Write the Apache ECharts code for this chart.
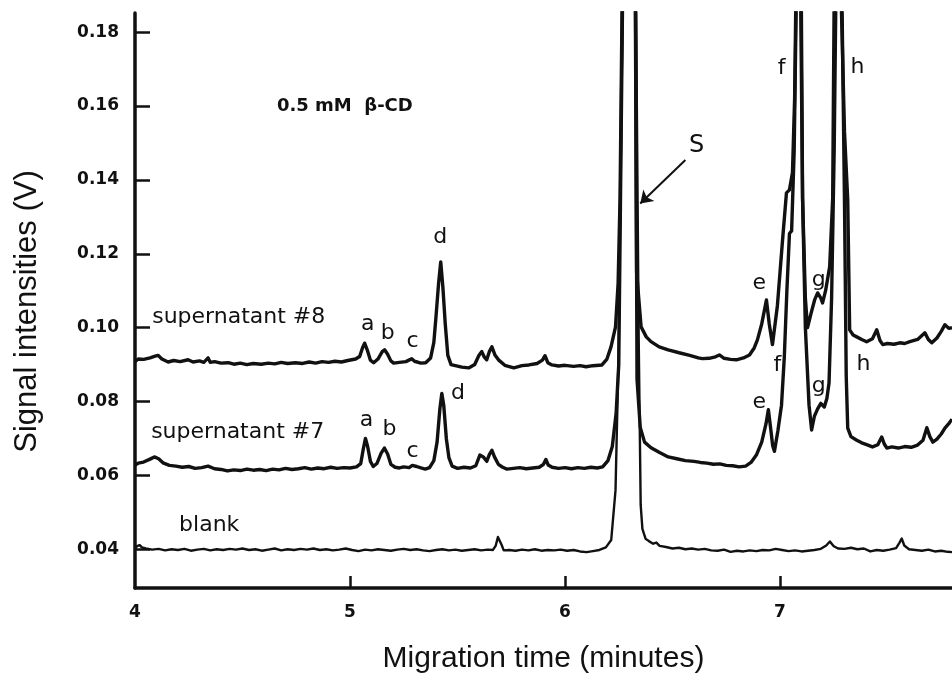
<!DOCTYPE html>
<html>
<head>
<meta charset="utf-8">
<script src="https://cdn.jsdelivr.net/npm/echarts@6/dist/echarts.min.js"></script>
<style>
  html, body { margin: 0; padding: 0; background: #fff; }
  #chart { width: 952px; height: 681px; }
</style>
</head>
<body>
<div id="chart"></div>
<script>
// Electropherogram traces: [migration time (min), signal (V)]
const blankTrace = [
  [4.000,0.0404],[4.012,0.0409],[4.022,0.0411],[4.032,0.0405],[4.05,0.0402],[4.08,0.0399],[4.11,0.0401],[4.14,0.0397],
  [4.17,0.0400],[4.20,0.0398],[4.23,0.0401],[4.26,0.0396],[4.29,0.0399],[4.32,0.0401],[4.35,0.0397],[4.38,0.0400],
  [4.41,0.0398],[4.44,0.0401],[4.47,0.0399],[4.50,0.0402],[4.53,0.0398],[4.56,0.0400],[4.59,0.0396],[4.62,0.0399],
  [4.65,0.0402],[4.68,0.0397],[4.71,0.0400],[4.74,0.0398],[4.77,0.0401],[4.80,0.0399],[4.83,0.0402],[4.86,0.0398],
  [4.89,0.0400],[4.92,0.0397],[4.95,0.0399],[4.98,0.0402],[5.01,0.0398],[5.04,0.0395],[5.07,0.0399],[5.10,0.0397],
  [5.13,0.0400],[5.16,0.0398],[5.19,0.0396],[5.22,0.0399],[5.25,0.0401],[5.28,0.0398],[5.31,0.0400],[5.34,0.0397],
  [5.37,0.0395],[5.40,0.0398],[5.43,0.0400],[5.46,0.0397],[5.49,0.0399],[5.52,0.0396],[5.55,0.0398],[5.58,0.0400],
  [5.61,0.0397],[5.64,0.0399],[5.665,0.0398],[5.678,0.0410],[5.688,0.0433],[5.697,0.0431],[5.705,0.0412],[5.715,0.0397],
  [5.74,0.0398],[5.77,0.0396],[5.80,0.0399],[5.83,0.0397],[5.86,0.0400],[5.89,0.0396],[5.92,0.0398],[5.95,0.0397],
  [5.98,0.0399],[6.01,0.0396],[6.04,0.0398],[6.07,0.0394],[6.10,0.0392],[6.13,0.0395],[6.16,0.0398],[6.19,0.0405],
  [6.215,0.0425],[6.235,0.0560],[6.25,0.0950],[6.268,0.1900],[6.298,0.3400],[6.33,0.1900],[6.343,0.0960],[6.352,0.0520],
  [6.36,0.0455],[6.375,0.0428],[6.39,0.0422],[6.41,0.0415],[6.425,0.0418],[6.44,0.0409],[6.47,0.0406],[6.50,0.0402],
  [6.53,0.0404],[6.56,0.0400],[6.59,0.0402],[6.62,0.0399],[6.65,0.0401],[6.68,0.0397],[6.71,0.0396],[6.74,0.0399],
  [6.77,0.0393],[6.80,0.0396],[6.83,0.0394],[6.86,0.0397],[6.89,0.0395],[6.92,0.0398],[6.95,0.0397],[6.98,0.0401],
  [7.01,0.0398],[7.04,0.0395],[7.07,0.0397],[7.10,0.0394],[7.13,0.0396],[7.16,0.0398],[7.19,0.0401],[7.215,0.0410],
  [7.232,0.0421],[7.25,0.0408],[7.27,0.0402],[7.30,0.0401],[7.33,0.0404],[7.36,0.0400],[7.39,0.0402],[7.42,0.0394],
  [7.45,0.0398],[7.48,0.0396],[7.51,0.0399],[7.54,0.0403],[7.556,0.0418],[7.566,0.0429],[7.578,0.0410],[7.60,0.0400],
  [7.63,0.0398],[7.66,0.0396],[7.69,0.0399],[7.72,0.0394],[7.75,0.0396],[7.78,0.0393],[7.80,0.0392]
];

const supernatant7Trace = [
  [4.000,0.0628],[4.015,0.0633],[4.04,0.0636],[4.07,0.0644],[4.09,0.0650],[4.11,0.0645],[4.13,0.0634],[4.16,0.0627],
  [4.19,0.0625],[4.22,0.0622],[4.25,0.0624],[4.28,0.0619],[4.31,0.0621],[4.34,0.0625],[4.37,0.0618],[4.40,0.0616],
  [4.43,0.0612],[4.46,0.0615],[4.49,0.0613],[4.52,0.0617],[4.55,0.0614],[4.58,0.0616],[4.61,0.0613],[4.64,0.0617],
  [4.67,0.0615],[4.70,0.0619],[4.73,0.0616],[4.76,0.0618],[4.79,0.0621],[4.82,0.0617],[4.85,0.0620],[4.88,0.0618],
  [4.91,0.0622],[4.94,0.0619],[4.97,0.0621],[5.00,0.0620],[5.03,0.0623],[5.05,0.0632],[5.062,0.0672],[5.072,0.0700],
  [5.082,0.0678],[5.095,0.0638],[5.108,0.0624],[5.125,0.0632],[5.145,0.0660],[5.16,0.0674],[5.175,0.0658],[5.19,0.0630],
  [5.21,0.0622],[5.23,0.0620],[5.25,0.0623],[5.275,0.0621],[5.29,0.0627],[5.31,0.0624],[5.33,0.0620],[5.35,0.0617],
  [5.37,0.0621],[5.39,0.0640],[5.405,0.0690],[5.418,0.0780],[5.427,0.0822],[5.436,0.0790],[5.448,0.0700],[5.46,0.0648],
  [5.475,0.0625],[5.50,0.0619],[5.53,0.0622],[5.56,0.0620],[5.585,0.0626],[5.604,0.0655],[5.62,0.0650],[5.636,0.0638],
  [5.648,0.0656],[5.66,0.0668],[5.672,0.0650],[5.69,0.0630],[5.71,0.0622],[5.73,0.0617],[5.76,0.0619],[5.79,0.0621],
  [5.82,0.0618],[5.85,0.0620],[5.88,0.0622],[5.90,0.0630],[5.911,0.0643],[5.922,0.0628],[5.94,0.0622],[5.97,0.0619],
  [6.00,0.0621],[6.03,0.0618],[6.06,0.0621],[6.09,0.0619],[6.12,0.0622],[6.15,0.0620],[6.175,0.0623],[6.20,0.0640],
  [6.22,0.0678],[6.238,0.0770],[6.25,0.0900],[6.268,0.1900],[6.298,0.3400],[6.328,0.1900],[6.335,0.0860],[6.35,0.0730],
  [6.37,0.0690],[6.40,0.0675],[6.44,0.0662],[6.48,0.0650],[6.52,0.0645],[6.56,0.0640],[6.60,0.0638],[6.63,0.0635],
  [6.66,0.0633],[6.69,0.0630],[6.72,0.0631],[6.75,0.0627],[6.78,0.0626],[6.81,0.0623],[6.84,0.0625],[6.865,0.0635],
  [6.89,0.0655],[6.915,0.0690],[6.935,0.0740],[6.946,0.0778],[6.956,0.0730],[6.966,0.0680],[6.974,0.0665],[6.99,0.0720],
  [7.007,0.0790],[7.02,0.0920],[7.032,0.1100],[7.044,0.1255],[7.054,0.1262],[7.066,0.1480],[7.076,0.1900],[7.087,0.3400],
  [7.099,0.1900],[7.105,0.1350],[7.118,0.1000],[7.135,0.0790],[7.147,0.0723],[7.16,0.0760],[7.175,0.0780],[7.19,0.0795],
  [7.198,0.0798],[7.206,0.0785],[7.218,0.0808],[7.228,0.0850],[7.24,0.1080],[7.252,0.1480],[7.26,0.1900],[7.274,0.3400],
  [7.288,0.1900],[7.30,0.1340],[7.308,0.0870],[7.315,0.0728],[7.33,0.0705],[7.357,0.0695],[7.38,0.0688],[7.403,0.0683],
  [7.43,0.0677],[7.455,0.0683],[7.473,0.0704],[7.485,0.0685],[7.497,0.0674],[7.52,0.0677],[7.55,0.0674],[7.58,0.0678],
  [7.61,0.0676],[7.64,0.0682],[7.665,0.0695],[7.683,0.0729],[7.697,0.0705],[7.711,0.0690],[7.73,0.0698],[7.75,0.0712],
  [7.767,0.0728],[7.785,0.0740],[7.80,0.0752]
];

const supernatant8Trace = [
  [4.000,0.0908],[4.015,0.0915],[4.04,0.0914],[4.07,0.0918],[4.09,0.0922],[4.107,0.0925],[4.125,0.0915],[4.154,0.0907],
  [4.18,0.0911],[4.21,0.0908],[4.247,0.0913],[4.27,0.0907],[4.30,0.0910],[4.32,0.0906],[4.34,0.0918],[4.35,0.0906],
  [4.37,0.0908],[4.40,0.0904],[4.434,0.0905],[4.46,0.0901],[4.49,0.0904],[4.52,0.0900],[4.55,0.0903],[4.587,0.0901],
  [4.62,0.0904],[4.65,0.0902],[4.68,0.0906],[4.71,0.0903],[4.746,0.0905],[4.78,0.0903],[4.81,0.0907],[4.84,0.0904],
  [4.87,0.0908],[4.90,0.0906],[4.93,0.0909],[4.96,0.0907],[4.99,0.0911],[5.026,0.0915],[5.045,0.0922],[5.058,0.0945],
  [5.068,0.0958],[5.08,0.0940],[5.095,0.0912],[5.11,0.0905],[5.13,0.0915],[5.15,0.0935],[5.161,0.0940],[5.175,0.0928],
  [5.19,0.0910],[5.203,0.0904],[5.23,0.0906],[5.26,0.0908],[5.287,0.0916],[5.30,0.0909],[5.33,0.0904],[5.352,0.0905],
  [5.375,0.0918],[5.39,0.0960],[5.40,0.1030],[5.412,0.1120],[5.422,0.1178],[5.432,0.1110],[5.443,0.1010],[5.455,0.0925],
  [5.47,0.0900],[5.50,0.0896],[5.52,0.0893],[5.552,0.0891],[5.58,0.0900],[5.60,0.0925],[5.613,0.0935],[5.625,0.0920],
  [5.636,0.0913],[5.648,0.0935],[5.66,0.0948],[5.675,0.0925],[5.692,0.0912],[5.72,0.0898],[5.762,0.0891],[5.80,0.0897],
  [5.832,0.0899],[5.87,0.0903],[5.895,0.0912],[5.907,0.0924],[5.92,0.0905],[5.939,0.0899],[5.97,0.0896],[6.00,0.0898],
  [6.04,0.0895],[6.07,0.0897],[6.098,0.0894],[6.13,0.0897],[6.172,0.0899],[6.195,0.0915],[6.214,0.0948],[6.235,0.1002],
  [6.247,0.1120],[6.256,0.1350],[6.266,0.1900],[6.296,0.3400],[6.327,0.1900],[6.333,0.1150],[6.354,0.1002],[6.378,0.0975],
  [6.40,0.0962],[6.438,0.0948],[6.48,0.0940],[6.531,0.0932],[6.58,0.0925],[6.62,0.0918],[6.639,0.0916],[6.67,0.0917],
  [6.70,0.0921],[6.718,0.0926],[6.74,0.0917],[6.77,0.0914],[6.797,0.0913],[6.83,0.0918],[6.858,0.0926],[6.88,0.0945],
  [6.895,0.0967],[6.915,0.1010],[6.937,0.1075],[6.95,0.1010],[6.965,0.0954],[6.988,0.1060],[7.012,0.1238],[7.03,0.1365],
  [7.044,0.1373],[7.058,0.1420],[7.068,0.1620],[7.074,0.1900],[7.085,0.3400],[7.096,0.1900],[7.105,0.1350],[7.118,0.1080],
  [7.128,0.1000],[7.145,0.1040],[7.161,0.1075],[7.175,0.1094],[7.19,0.1080],[7.198,0.1067],[7.212,0.1100],[7.231,0.1165],
  [7.245,0.1350],[7.252,0.1900],[7.268,0.3400],[7.284,0.1900],[7.30,0.1530],[7.315,0.1346],[7.324,0.0994],[7.34,0.0980],
  [7.357,0.0975],[7.38,0.0968],[7.403,0.0962],[7.43,0.0970],[7.45,0.0994],[7.465,0.0965],[7.478,0.0954],[7.50,0.0957],
  [7.53,0.0955],[7.557,0.0959],[7.58,0.0957],[7.604,0.0962],[7.64,0.0968],[7.674,0.0986],[7.69,0.0968],[7.706,0.0959],
  [7.73,0.0972],[7.75,0.0990],[7.767,0.1008],[7.785,0.0998],[7.80,0.1000]
];

// Axis tick values
const timeTicks = [4, 5, 6, 7];
const signalTicks = [0.04, 0.06, 0.08, 0.10, 0.12, 0.14, 0.16, 0.18];

// Peak letters placed at [time, signal]
const peakLetters = [
  ['a', 5.082, 0.1010], ['b', 5.175, 0.0986], ['c', 5.291, 0.0962], ['d', 5.420, 0.1246],
  ['e', 6.904, 0.1119], ['f', 7.007, 0.1703], ['g', 7.180, 0.1127], ['h', 7.360, 0.1706],
  ['a', 5.077, 0.0748], ['b', 5.184, 0.0726], ['c', 5.291, 0.0664], ['d', 5.502, 0.0821],
  ['e', 6.904, 0.0797], ['f', 6.988, 0.0897], ['g', 7.180, 0.0840], ['h', 7.388, 0.0902]
];

// Trace names, anchored at their left edge
const traceNames = [
  ['supernatant #8', 4.080, 0.1029],
  ['supernatant #7', 4.075, 0.0718],
  ['blank', 4.205, 0.0466]
];

const conditionText = ['0.5 mM  β-CD', 4.660, 0.1598];
const systemPeakText = ['S', 6.612, 0.1492];
const systemPeakArrow = [[6.560, 0.1454], [6.350, 0.1336]];

const INK = '#111111';
const LABEL_FONT = 'DejaVu Sans';
const TITLE_FONT = 'Liberation Sans';

function textPoint(name, t, v, style) {
  return {
    value: [t, v],
    name: name,
    label: Object.assign({
      show: true,
      formatter: name,
      position: [0, 0],
      align: 'center',
      verticalAlign: 'middle',
      color: INK,
      opacity: 1,
      textBorderWidth: 0,
      textShadowBlur: 0,
      fontFamily: LABEL_FONT,
      fontSize: 22
    }, style || {})
  };
}

const textData = []
  .concat(peakLetters.map(p => textPoint(p[0], p[1], p[2])))
  .concat(traceNames.map(p => textPoint(p[0], p[1], p[2], { align: 'left' })))
  .concat([
    textPoint(conditionText[0], conditionText[1], conditionText[2], { align: 'left', fontWeight: 'bold', fontSize: 18 }),
    textPoint(systemPeakText[0], systemPeakText[1], systemPeakText[2], { fontSize: 24 })
  ]);

function traceSeries(name, data, width) {
  return {
    name: name,
    type: 'line',
    data: data,
    showSymbol: false,
    symbol: 'none',
    clip: true,
    silent: true,
    lineStyle: { color: INK, width: width, join: 'round' }
  };
}

const chart = echarts.init(document.getElementById('chart'), null, { renderer: 'canvas' });

chart.setOption({
  animation: false,
  backgroundColor: '#ffffff',
  grid: { left: 135, right: 0, top: 13, bottom: 93, containLabel: false },
  xAxis: {
    type: 'value',
    min: 4,
    max: 7.8,
    name: 'Migration time (minutes)',
    nameLocation: 'middle',
    nameGap: 56,
    nameTextStyle: { fontFamily: TITLE_FONT, fontSize: 30, color: INK },
    axisLine: { onZero: false, lineStyle: { color: INK, width: 3.5 } },
    axisTick: { inside: true, length: 12, customValues: [5, 6, 7], lineStyle: { color: INK, width: 2.5 } },
    axisLabel: {
      customValues: timeTicks,
      margin: 16,
      fontFamily: LABEL_FONT, fontWeight: 'bold', fontSize: 17, color: INK,
      formatter: v => String(v)
    },
    splitLine: { show: false }
  },
  yAxis: {
    type: 'value',
    min: 0.0295,
    max: 0.1852,
    name: 'Signal intensities (V)',
    nameLocation: 'middle',
    nameRotate: 90,
    nameGap: 92,
    nameTextStyle: { fontFamily: TITLE_FONT, fontSize: 31, color: INK, padding: [0, 22, 0, 0] },
    axisLine: { onZero: false, lineStyle: { color: INK, width: 3.5 } },
    axisTick: { inside: true, length: 15, customValues: signalTicks, lineStyle: { color: INK, width: 2.5 } },
    axisLabel: {
      customValues: signalTicks,
      margin: 16,
      fontFamily: LABEL_FONT, fontWeight: 'bold', fontSize: 17, color: INK,
      formatter: v => v.toFixed(2)
    },
    splitLine: { show: false }
  },
  series: [
    traceSeries('blank', blankTrace, 2.4),
    traceSeries('supernatant #7', supernatant7Trace, 3.4),
    traceSeries('supernatant #8', supernatant8Trace, 3.4),
    {
      name: 'annotations',
      type: 'scatter',
      symbolSize: 0,
      silent: true,
      clip: false,
      itemStyle: { color: INK, opacity: 1 },
      data: textData,
      markLine: {
        silent: true,
        symbol: ['none', 'arrow'],
        symbolSize: 12,
        label: { show: false },
        itemStyle: { color: INK },
        lineStyle: { color: INK, width: 2, type: 'solid', opacity: 1 },
        data: [[{ coord: systemPeakArrow[0] }, { coord: systemPeakArrow[1] }]]
      }
    }
  ]
});
</script>
</body>
</html>
